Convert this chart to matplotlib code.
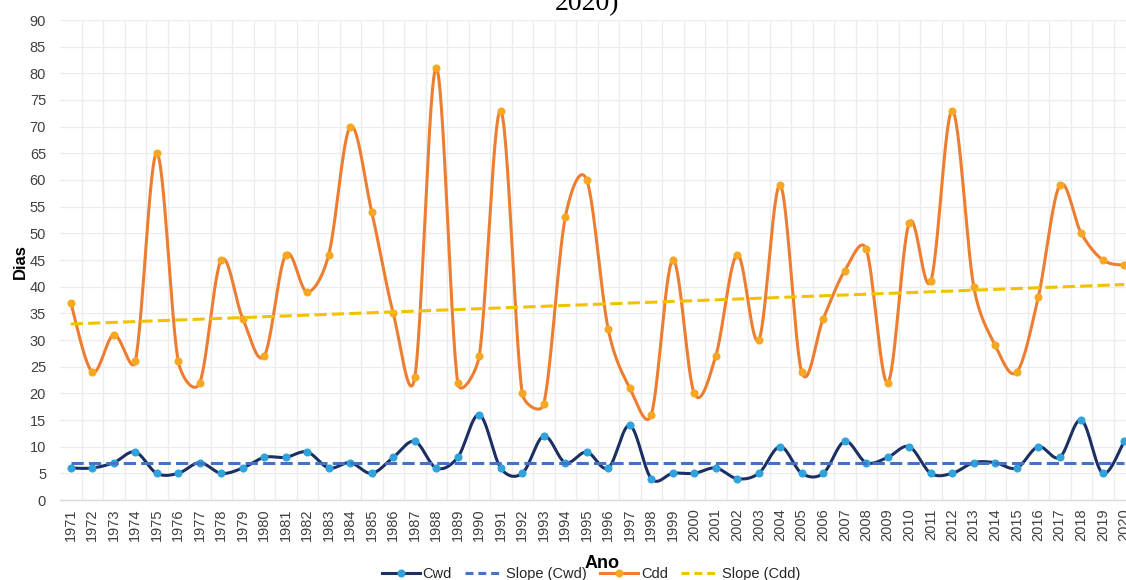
import numpy as np
import matplotlib
matplotlib.use("Agg")
import matplotlib.pyplot as plt
from matplotlib.lines import Line2D

# Annual extreme indices: consecutive wet days (Cwd) and consecutive dry days (Cdd)
years = list(range(1971, 2021))
cwd = [6, 6, 7, 9, 5, 5, 7, 5, 6, 8,
       8, 9, 6, 7, 5, 8, 11, 6, 8, 16,
       6, 5, 12, 7, 9, 6, 14, 4, 5, 5,
       6, 4, 5, 10, 5, 5, 11, 7, 8, 10,
       5, 5, 7, 7, 6, 10, 8, 15, 5, 11]
cdd = [37, 24, 31, 26, 65, 26, 22, 45, 34, 27,
       46, 39, 46, 70, 54, 35, 23, 81, 22, 27,
       73, 20, 18, 53, 60, 32, 21, 16, 45, 20,
       27, 46, 30, 59, 24, 34, 43, 47, 22, 52,
       41, 73, 40, 29, 24, 38, 59, 50, 45, 44]
# Trend lines (value at first and last year)
cwd_trend = [7.0, 7.0]
cdd_trend = [33.0, 40.4]

C_CWD = "#1b2f63"
C_CWD_MK = "#2ea3dc"
C_CWD_SLOPE = "#4472c4"
C_CDD = "#ed7d31"
C_CDD_MK = "#f7a823"
C_CDD_SLOPE = "#f2c200"
FONT = "Liberation Sans"

W, H = 1126, 580
AX_L, AX_B, AX_W, AX_H = 60, 80, 1075, 480   # axes box in pixels
YMAX = 90
NCAT = len(years)
PX_X = AX_W / NCAT        # pixels per category
PX_Y = AX_H / YMAX        # pixels per data unit


def smooth(x, y, n=30):
    """Spreadsheet-style smoothed line: cubic Bezier pieces whose control
    arms are 1/6 of the neighbour chord, capped at half the segment length
    (measured in screen pixels)."""
    P = np.column_stack([np.asarray(x, float) * PX_X, np.asarray(y, float) * PX_Y])
    out = [P[0]]
    t = np.linspace(0, 1, n)[1:, None]
    for i in range(len(P) - 1):
        p0 = P[i - 1] if i > 0 else P[i]
        p1, p2 = P[i], P[i + 1]
        p3 = P[i + 2] if i + 2 < len(P) else P[i + 1]
        d12 = np.hypot(*(p2 - p1))
        d02 = np.hypot(*(p2 - p0))
        d13 = np.hypot(*(p3 - p1))
        f1 = 1 / 6 if d02 / 6 < d12 / 2 or d02 == 0 else d12 / (2 * d02)
        f2 = 1 / 6 if d13 / 6 < d12 / 2 or d13 == 0 else d12 / (2 * d13)
        c1 = p1 + f1 * (p2 - p0)
        c2 = p2 - f2 * (p3 - p1)
        seg = (1 - t) ** 3 * p1 + 3 * (1 - t) ** 2 * t * c1 + 3 * (1 - t) * t ** 2 * c2 + t ** 3 * p2
        out.extend(seg)
    out = np.array(out)
    return out[:, 0] / PX_X, out[:, 1] / PX_Y


fig = plt.figure(figsize=(11.26, 5.80), dpi=100)
ax = fig.add_axes([AX_L / W, AX_B / H, AX_W / W, AX_H / H])

xi = np.arange(NCAT)
LW = 2.2
MS = 4.8
DASH = (0, (4.0, 1.7))

# Cwd
sx, sy = smooth(xi, cwd)
ax.plot(sx, sy, color=C_CWD, lw=LW, zorder=3, solid_capstyle="round")
ax.plot(xi, cwd, "o", ms=MS, color=C_CWD_MK, mec=C_CWD_MK, zorder=4)
ax.plot([xi[0], xi[-1]], cwd_trend, color=C_CWD_SLOPE, lw=LW, ls=DASH, zorder=5)

# Cdd
sx, sy = smooth(xi, cdd)
ax.plot(sx, sy, color=C_CDD, lw=LW, zorder=3, solid_capstyle="round")
ax.plot(xi, cdd, "o", ms=MS, color=C_CDD_MK, mec=C_CDD_MK, zorder=4)
ax.plot([xi[0], xi[-1]], cdd_trend, color=C_CDD_SLOPE, lw=LW, ls=DASH, zorder=5)

ax.set_xlim(-0.5, NCAT - 0.5)
ax.set_ylim(0, YMAX)
ax.set_yticks(np.arange(0, YMAX + 1, 5))
ax.set_xticks(xi)
ax.set_xticklabels([str(y) for y in years], rotation=90, fontsize=10.5,
                   family=FONT, color="#404040")
ax.set_xticks(xi[:-1] + 0.5, minor=True)
for lab in ax.get_yticklabels():
    lab.set_fontfamily(FONT)
ax.tick_params(axis="y", length=0, labelsize=10.5, labelcolor="#404040", pad=10)
ax.tick_params(axis="x", which="both", length=0, pad=6)

ax.grid(axis="y", which="major", color="#ececec", lw=0.9)
ax.grid(axis="x", which="minor", color="#ececec", lw=0.9)
ax.set_axisbelow(True)
for s in ["top", "right", "left"]:
    ax.spines[s].set_visible(False)
ax.spines["bottom"].set_color("#d9d9d9")
ax.spines["bottom"].set_linewidth(1.0)

fig.text(20 / W, 1 - 262 / H, "Dias", rotation=90, ha="center", va="center",
         fontsize=12, fontweight="bold", family=FONT, color="#000000")
fig.text(602 / W, 1 - 564 / H, "Ano", ha="center", va="center",
         fontsize=13, fontweight="bold", family=FONT, color="#000000")
fig.text(587 / W, 1 - 10 / H, "2020)", ha="center", va="baseline",
         fontsize=20, family="Liberation Serif", color="#000000")

handles = [
    Line2D([], [], color=C_CWD, lw=LW, marker="o", ms=MS, mfc=C_CWD_MK, mec=C_CWD_MK),
    Line2D([], [], color=C_CWD_SLOPE, lw=LW, ls=(0, (2.6, 1.6))),
    Line2D([], [], color=C_CDD, lw=LW, marker="o", ms=MS, mfc=C_CDD_MK, mec=C_CDD_MK),
    Line2D([], [], color=C_CDD_SLOPE, lw=LW, ls=(0, (2.6, 1.6))),
]
labels = ["Cwd", "Slope (Cwd)", "Cdd", "Slope (Cdd)"]
fig.legend(handles, labels, loc="center", bbox_to_anchor=(591 / W, 1 - 574 / H),
           ncol=4, frameon=False, prop={"family": FONT, "size": 10.5},
           handlelength=2.6, handletextpad=0.2, columnspacing=0.9, numpoints=1,
           labelcolor="#262626", borderpad=0)

fig.savefig("out.png", dpi=100)
